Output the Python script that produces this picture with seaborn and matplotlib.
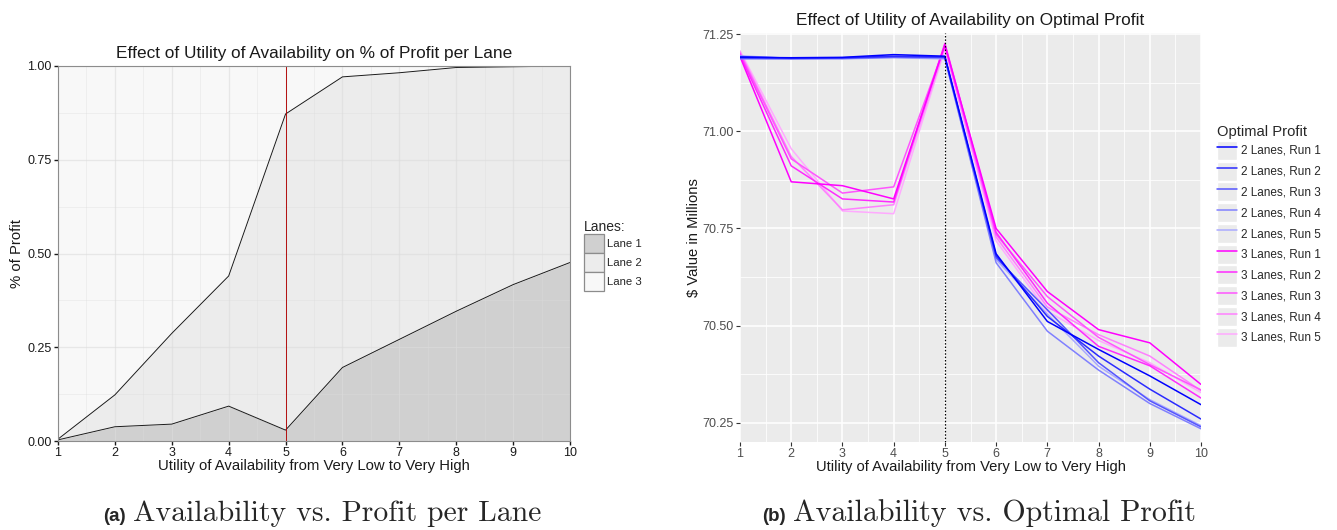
import numpy as np
import pandas as pd
import matplotlib
matplotlib.use("Agg")
import matplotlib.pyplot as plt
import seaborn as sns
from matplotlib.patches import Rectangle
from matplotlib.lines import Line2D
from matplotlib.legend_handler import HandlerTuple

# ---------------- data ----------------
utility = [1, 2, 3, 4, 5, 6, 7, 8, 9, 10]

# share of profit per lane (left panel)
lane1_share = [0.003, 0.038, 0.045, 0.093, 0.029, 0.196, 0.271, 0.346, 0.417, 0.476]
lane2_share = [0.002, 0.085, 0.242, 0.347, 0.843, 0.775, 0.711, 0.650, 0.581, 0.524]
lane3_share = [0.995, 0.877, 0.713, 0.560, 0.128, 0.029, 0.018, 0.004, 0.002, 0.000]
lane_labels = ["Lane 1", "Lane 2", "Lane 3"]
lane_colors = ["#d0d0d0", "#ececec", "#f8f8f8"]

# optimal profit in $ millions (right panel)
two_lane_run1 = [71.190, 71.189, 71.190, 71.197, 71.193, 70.685, 70.511, 70.439, 70.371, 70.297]
two_lane_run2 = [71.192, 71.188, 71.189, 71.193, 71.191, 70.680, 70.524, 70.422, 70.337, 70.260]
two_lane_run3 = [71.188, 71.187, 71.188, 71.191, 71.190, 70.675, 70.541, 70.405, 70.307, 70.240]
two_lane_run4 = [71.186, 71.186, 71.187, 71.190, 71.188, 70.662, 70.486, 70.386, 70.300, 70.235]
two_lane_run5 = [71.194, 71.187, 71.186, 71.189, 71.186, 70.670, 70.530, 70.396, 70.310, 70.243]
three_lane_run1 = [71.192, 70.870, 70.860, 70.826, 71.222, 70.750, 70.588, 70.490, 70.456, 70.349]
three_lane_run2 = [71.196, 70.911, 70.826, 70.818, 71.226, 70.740, 70.558, 70.447, 70.397, 70.314]
three_lane_run3 = [71.200, 70.929, 70.841, 70.857, 71.220, 70.735, 70.575, 70.470, 70.400, 70.335]
three_lane_run4 = [71.204, 70.935, 70.798, 70.811, 71.216, 70.728, 70.548, 70.477, 70.422, 70.333]
three_lane_run5 = [71.207, 70.955, 70.795, 70.788, 71.212, 70.718, 70.537, 70.462, 70.405, 70.328]
run_labels = ["2 Lanes, Run 1", "2 Lanes, Run 2", "2 Lanes, Run 3", "2 Lanes, Run 4", "2 Lanes, Run 5",
              "3 Lanes, Run 1", "3 Lanes, Run 2", "3 Lanes, Run 3", "3 Lanes, Run 4", "3 Lanes, Run 5"]
run_colors = ["#0000ff", "#2b2bff", "#5555ff", "#8080ff", "#aaaaff",
              "#ff00ff", "#ff2bff", "#ff55ff", "#ff80ff", "#ffaaff"]

x_ticks = [1, 2, 3, 4, 5, 6, 7, 8, 9, 10]
left_yticks = [0.0, 0.25, 0.5, 0.75, 1.0]
left_yticklabels = ["0.00", "0.25", "0.50", "0.75", "1.00"]
right_yticks = [70.25, 70.5, 70.75, 71.0, 71.25]
right_yticklabels = ["70.25", "70.50", "70.75", "71.00", "71.25"]

# ---------------- style ----------------
sns.set_theme(style="white")
plt.rcParams['font.family'] = ['Liberation Sans', 'DejaVu Sans']

W, H = 1337, 530
fig = plt.figure(figsize=(W / 100, H / 100), dpi=100)
fig.patch.set_facecolor("white")

def fx(px):
    return px / W

def fy(py):
    return (H - py) / H

axL = fig.add_axes([fx(58), fy(441), fx(570) - fx(58), fy(66) - fy(441)])
axR = fig.add_axes([fx(740), fy(442), fx(1201) - fx(740), fy(33) - fy(442)])

# ---------------- left panel ----------------
dfL = pd.DataFrame({"utility": utility, "Lane 1": lane1_share,
                    "Lane 2": lane2_share, "Lane 3": lane3_share})
dfL["b1"] = dfL["Lane 1"]
dfL["b2"] = dfL["Lane 1"] + dfL["Lane 2"]
dfL["b3"] = dfL["b2"] + dfL["Lane 3"]

axL.set_facecolor("white")
axL.fill_between(dfL["utility"], 0, dfL["b1"], color=lane_colors[0], lw=0, zorder=1)
axL.fill_between(dfL["utility"], dfL["b1"], dfL["b2"], color=lane_colors[1], lw=0, zorder=1)
axL.fill_between(dfL["utility"], dfL["b2"], 1.0, color=lane_colors[2], lw=0, zorder=1)
sns.lineplot(data=dfL, x="utility", y="b1", ax=axL, color="#1a1a1a", lw=0.7, zorder=3)
sns.lineplot(data=dfL, x="utility", y="b2", ax=axL, color="#1a1a1a", lw=0.7, zorder=3)
axL.axvline(5, color="#b00000", lw=0.65, zorder=4)

axL.set_xlim(1, 10)
axL.set_ylim(0, 1)
axL.set_xticks(x_ticks)
axL.set_xticks(np.arange(1.5, 10, 1), minor=True)
axL.set_yticks(left_yticks)
axL.set_yticklabels(left_yticklabels)
axL.set_yticks(np.arange(0.125, 1, 0.25), minor=True)
axL.set_axisbelow(False)
axL.grid(which="major", color="#dcdcdc", alpha=0.6, lw=0.9, zorder=2)
axL.grid(which="minor", color="#dcdcdc", alpha=0.5, lw=0.5, zorder=2)
for s in axL.spines.values():
    s.set_color("#8c8c8c")
    s.set_linewidth(0.8)
    s.set_zorder(5)
axL.tick_params(axis="both", which="major", length=3, width=1.0, color="#1a1a1a",
                labelsize=9, labelcolor="#1a1a1a", pad=1.5, bottom=True, left=True)
axL.tick_params(which="minor", length=0)
axL.set_title("Effect of Utility of Availability on % of Profit per Lane",
              fontsize=12.4, color="#1a1a1a", pad=6)
axL.set_xlabel("Utility of Availability from Very Low to Very High", fontsize=10.7,
               color="#1a1a1a", labelpad=0)
axL.set_ylabel("% of Profit", fontsize=10.7, color="#1a1a1a", labelpad=2.5)

lane_handles = [Rectangle((0, 0), 1, 1, fc=c, ec="#8c8c8c", lw=0.9) for c in lane_colors]
fig.legend(lane_handles, lane_labels, title="Lanes:", loc="upper left",
           bbox_to_anchor=(fx(584), fy(220)), frameon=False, fontsize=8.2,
           title_fontsize=10, handlelength=1.75, handleheight=2.2,
           labelspacing=0.0, handletextpad=0.25, borderpad=0, borderaxespad=0,
           alignment="left")

# ---------------- right panel ----------------
series_values = [two_lane_run1, two_lane_run2, two_lane_run3, two_lane_run4, two_lane_run5,
                 three_lane_run1, three_lane_run2, three_lane_run3, three_lane_run4, three_lane_run5]
rows = []
for lab, vals in zip(run_labels, series_values):
    for u, v in zip(utility, vals):
        rows.append({"utility": u, "profit": v, "series": lab})
dfR = pd.DataFrame(rows)
palette = dict(zip(run_labels, run_colors))

axR.set_facecolor("#ebebeb")
axR.set_axisbelow(True)
axR.set_xlim(1, 10)
axR.set_ylim(70.201, 71.2526)
axR.set_xticks(x_ticks)
axR.set_xticks(np.arange(1.5, 10, 1), minor=True)
axR.set_yticks(right_yticks)
axR.set_yticklabels(right_yticklabels)
axR.set_yticks(np.arange(70.375, 71.25, 0.25), minor=True)
axR.grid(which="major", color="white", lw=1.1)
axR.grid(which="minor", color="white", lw=0.55)
sns.lineplot(data=dfR, x="utility", y="profit", hue="series", hue_order=run_labels[::-1],
             palette=palette, ax=axR, lw=1.1, legend=False)
axR.axvline(5, color="black", ls=(0, (1.2, 1.5)), lw=0.9)
for s in axR.spines.values():
    s.set_visible(False)
axR.tick_params(axis="both", which="major", length=3, width=0.8, color="#333333",
                labelsize=9, labelcolor="#4d4d4d", pad=1.5, bottom=True, left=True)
axR.tick_params(which="minor", length=0)
axR.set_title("Effect of Utility of Availability on Optimal Profit",
              fontsize=12.4, color="#1a1a1a", pad=6)
axR.set_xlabel("Utility of Availability from Very Low to Very High", fontsize=10.6,
               color="#1a1a1a", labelpad=0)
axR.set_ylabel("\\$ Value in Millions", fontsize=10.6, color="#1a1a1a", labelpad=1)

run_handles = [(Rectangle((0, 0), 1, 1, fc="#ebebeb", ec="white", lw=1.0),
                Line2D([0], [0], color=c, lw=1.1)) for c in run_colors]
fig.legend(run_handles, run_labels, title="Optimal Profit", loc="upper left",
           bbox_to_anchor=(fx(1217), fy(125)), frameon=False, fontsize=8.5,
           title_fontsize=10.6, handlelength=1.7, handleheight=2.1,
           labelspacing=0.15, handletextpad=0.3, borderpad=0, borderaxespad=0,
           alignment="left", handler_map={tuple: HandlerTuple(ndivide=1, pad=0)})

# ---------------- captions ----------------
fig.text(fx(126), fy(521), "(a)", fontsize=13.5, fontweight="bold", ha="right", va="baseline",
         family=["Liberation Sans", "DejaVu Sans"])
fig.text(fx(133), fy(521), "Availability vs. Profit per Lane", fontsize=21.4, ha="left",
         va="baseline", family=["cmr10", "DejaVu Serif"])
fig.text(fx(786), fy(521), "(b)", fontsize=13.5, fontweight="bold", ha="right", va="baseline",
         family=["Liberation Sans", "DejaVu Sans"])
fig.text(fx(793), fy(521), "Availability vs. Optimal Profit", fontsize=21.5, ha="left",
         va="baseline", family=["cmr10", "DejaVu Serif"])

fig.savefig("out.png", dpi=100)
